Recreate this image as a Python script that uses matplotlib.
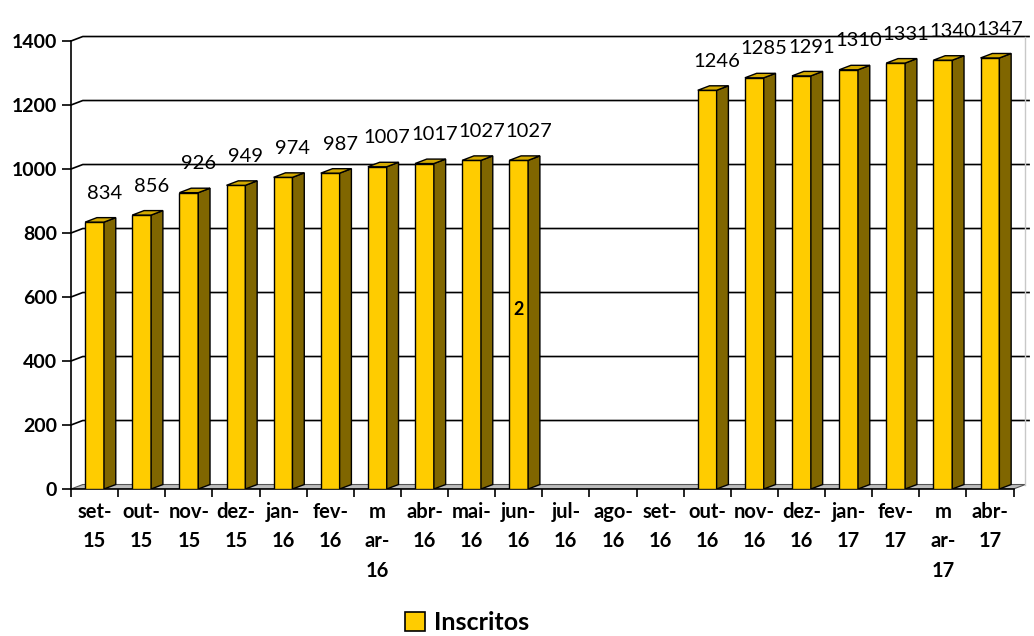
import matplotlib.pyplot as plt
from matplotlib.patches import Polygon, Patch
import numpy as np

plt.rcParams['font.family'] = ['Lato', 'DejaVu Sans']

# dados
meses = ["set-\n15", "out-\n15", "nov-\n15", "dez-\n15", "jan-\n16", "fev-\n16",
         "m\nar-\n16", "abr-\n16", "mai-\n16", "jun-\n16", "jul-\n16", "ago-\n16",
         "set-\n16", "out-\n16", "nov-\n16", "dez-\n16", "jan-\n17", "fev-\n17",
         "m\nar-\n17", "abr-\n17"]
inscritos = [834, 856, 926, 949, 974, 987, 1007, 1017, 1027, 1027,
             None, None, None, 1246, 1285, 1291, 1310, 1331, 1340, 1347]
yticks = [0, 200, 400, 600, 800, 1000, 1200, 1400]
rotulo_extra = "2"   # rótulo solto que aparece dentro da barra de jun-16

# efeito 3D (profundidade em unidades de dados)
dx, dy = 0.25, 14
w = 0.40
n = len(meses)

fig = plt.figure(figsize=(10.34, 6.36), dpi=100)
ax = fig.add_axes([71 / 1034, (636 - 489) / 636, (1030 - 71) / 1034, 464 / 636])
ax.set_xlim(0, n + 0.35)
ax.set_ylim(0, 1450)

# chão
ax.add_patch(Polygon([(0, 0), (n, 0), (n + dx, dy), (dx, dy)], closed=True,
                     facecolor='#bdbdbd', edgecolor='#555555', lw=0.8, zorder=1))
# linhas de grade na parede de fundo
for v in yticks[1:]:
    ax.plot([0, dx, n + 0.33], [v, v + dy, v + dy], color='black', lw=1.2,
            zorder=1, clip_on=False)
ax.plot([n + dx, n + dx], [dy, yticks[-1] + dy], color='#c8c8c8', lw=1, zorder=1)

# barras
for i, v in enumerate(inscritos):
    if v is None:
        continue
    c = i + 0.5
    x0, x1 = c - w / 2, c + w / 2
    ax.add_patch(Polygon([(x0, 0), (x1, 0), (x1, v), (x0, v)], closed=True,
                         facecolor='#ffcc00', edgecolor='black', lw=1, zorder=3))
    ax.add_patch(Polygon([(x1, 0), (x1 + dx, dy), (x1 + dx, v + dy), (x1, v)], closed=True,
                         facecolor='#806600', edgecolor='black', lw=1, zorder=3))
    ax.add_patch(Polygon([(x0, v), (x1, v), (x1 + dx, v + dy), (x0 + dx, v + dy)], closed=True,
                         facecolor='#d4aa00', edgecolor='black', lw=1, zorder=3))
    ax.text(c + 0.21, v + 90, str(v), ha='center', va='center', fontsize=14.5,
            color='black', zorder=5, clip_on=False)

ax.text(9.5, 560, rotulo_extra, ha='center', va='center', fontsize=13,
        fontweight='bold', zorder=5)

# eixos
for s in ['top', 'right']:
    ax.spines[s].set_visible(False)
ax.spines['left'].set_bounds(0, 1400)
ax.spines['bottom'].set_bounds(0, n)
ax.spines['left'].set_linewidth(1.2)
ax.spines['bottom'].set_linewidth(1.2)

ax.set_yticks(yticks)
ax.set_yticklabels([str(t) for t in yticks], fontsize=14, fontweight='bold')
ax.tick_params(axis='y', length=6.5, width=1.2, pad=3.5)

ax.set_xticks(np.arange(n + 1), minor=True)
ax.set_xticks(np.arange(n) + 0.5)
ax.set_xticklabels(meses, fontsize=14.5, fontweight='bold', linespacing=1.6)
ax.tick_params(axis='x', which='major', length=0, pad=9)
ax.tick_params(axis='x', which='minor', length=6, width=1.2)

fig.legend(handles=[Patch(facecolor='#ffcc00', edgecolor='black', lw=1.2)],
           labels=['Inscritos'], loc='center', bbox_to_anchor=(0.452, 0.021),
           frameon=False, handlelength=0.8, handleheight=0.8, handletextpad=0.35,
           prop={'weight': 'bold', 'size': 18})

fig.savefig('out.png', dpi=100)
